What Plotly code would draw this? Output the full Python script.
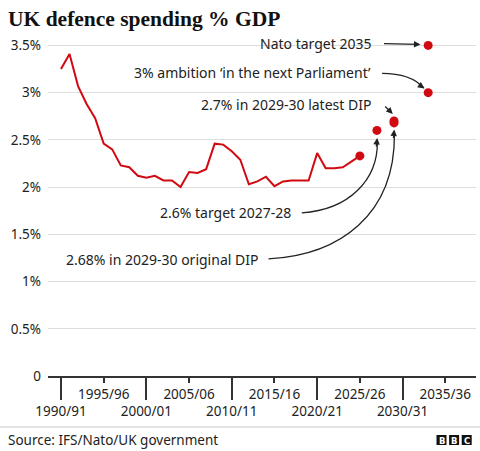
import plotly.graph_objects as go

# UK defence spending as % of GDP, financial years starting 1990 .. 2025
years = list(range(1990, 2026))
spending = [3.25, 3.41, 3.07, 2.88, 2.73, 2.46, 2.40, 2.23, 2.21, 2.12,
            2.10, 2.12, 2.07, 2.07, 2.00, 2.16, 2.15, 2.19, 2.46, 2.45,
            2.38, 2.29, 2.03, 2.06, 2.11, 2.01, 2.06, 2.07, 2.07, 2.07,
            2.36, 2.20, 2.20, 2.21, 2.27, 2.33]

# targets / plans
target_years = [2027, 2029, 2029, 2033, 2033]
target_values = [2.6, 2.68, 2.7, 3.0, 3.5]
target_labels = ["2.6% target 2027-28", "2.68% in 2029-30 original DIP",
                 "2.7% in 2029-30 latest DIP",
                 "3% ambition \u2018in the next Parliament\u2019",
                 "Nato target 2035"]

y_ticks = [0, 0.5, 1, 1.5, 2, 2.5, 3, 3.5]
y_labels = ["0", "0.5%", "1%", "1.5%", "2%", "2.5%", "3%", "3.5%"]
x_ticks_short = [1995, 2005, 2015, 2025, 2035]
x_labels_short = ["1995/96", "2005/06", "2015/16", "2025/26", "2035/36"]
x_ticks_long = [1990, 2000, 2010, 2020, 2030]
x_labels_long = ["1990/91", "2000/01", "2010/11", "2020/21", "2030/31"]

RED = "#d10a11"
INK = "#222222"
FONT = "Noto Sans"

W, H = 480, 451
M = dict(l=48, r=4, t=36, b=75)


def px(x):  # pixel -> paper x
    return (x - M["l"]) / (W - M["l"] - M["r"])


def py(y):  # pixel -> paper y
    return (H - M["b"] - y) / (H - M["t"] - M["b"])


fig = go.Figure()

fig.add_trace(go.Scatter(x=years, y=spending, mode="lines",
                         line=dict(color=RED, width=2), hoverinfo="skip"))
fig.add_trace(go.Scatter(x=[years[-1]], y=[spending[-1]], mode="markers",
                         marker=dict(color=RED, size=9), hoverinfo="skip"))
fig.add_trace(go.Scatter(x=target_years, y=target_values, mode="markers",
                         marker=dict(color=RED, size=9), hoverinfo="skip"))
# dummy trace so the long-tick axis is drawn
fig.add_trace(go.Scatter(x=[years[0]], y=[spending[0]], xaxis="x2",
                         mode="none", hoverinfo="skip"))

# labels
t26, t268, t27, t3, t35 = [(x, y) for x, y in zip(target_years, target_values)]
label_pos = [
    (2017.2, 1.727, target_labels[0]),
    (2013.3, 1.229, target_labels[1]),
    (2026.5, 2.87, target_labels[2]),
    (2026.5, 3.21, target_labels[3]),
    (2026.5, 3.517, target_labels[4]),
]
for x, y, txt in label_pos:
    fig.add_annotation(x=x, y=y, text=txt, showarrow=False, xanchor="right",
                       yanchor="middle", font=dict(family=FONT, size=14, color=INK))

# curved leaders
def curve(p0, c1, c2, p1):
    return "M {},{} C {},{} {},{} {},{}".format(*p0, *c1, *c2, *p1)

paths = [
    curve((2018.2, 1.727), (2023.8, 1.76), (t26[0] + 0.1, 2.08), (t26[0] + 0.05, 2.48)),
    curve((2014.3, 1.24), (2022.7, 1.28), (t268[0] + 0.1, 1.71), (t268[0] + 0.05, 2.56)),
    curve((2027.6, 3.205), (2029.9, 3.205), (2031.4, 3.16), (t3[0] - 0.5, 3.05)),
]
for p in paths:
    fig.add_shape(type="path", path=p, xref="x", yref="y",
                  line=dict(color=INK, width=1.3))

arrows = [
    (t26[0] + 0.03, t26[1] - 0.08, -1, 10),
    (t268[0] + 0.03, t268[1] - 0.07, -1, 10),
    (t3[0] - 0.45, t3[1] + 0.045, -7, -5),
    (t35[0] - 0.9, t35[1] + 0.01, -38, -1),
    (t27[0] - 0.15, t27[1] + 0.075, -9, -9),
]
for x, y, ax, ay in arrows:
    fig.add_annotation(x=x, y=y, ax=ax, ay=ay, text="", showarrow=True,
                       arrowhead=2, arrowsize=1, arrowwidth=1.3, arrowcolor=INK)

# footer
fig.add_shape(type="line", xref="paper", yref="paper", x0=px(0), x1=px(480),
              y0=py(427), y1=py(427), line=dict(color="#c8c8c8", width=1))
fig.add_annotation(xref="paper", yref="paper", x=px(6), y=py(440),
                   text="Source: IFS/Nato/UK government", showarrow=False,
                   xanchor="left", yanchor="middle",
                   font=dict(family=FONT, size=13.5, color=INK))
for i, letter in enumerate("BBC"):
    x0 = 436.5 + i * 12.6
    fig.add_shape(type="rect", xref="paper", yref="paper", x0=px(x0), x1=px(x0 + 10),
                  y0=py(445), y1=py(435), fillcolor="#111111", line=dict(width=0),
                  layer="below")
    fig.add_annotation(xref="paper", yref="paper", x=px(x0 + 5), y=py(440.5),
                       text="<b>%s</b>" % letter, showarrow=False,
                       xanchor="center", yanchor="middle",
                       font=dict(family="DejaVu Sans", size=8.5, color="white"))

fig.update_layout(
    width=W, height=H, margin=M,
    paper_bgcolor="white", plot_bgcolor="rgba(0,0,0,0)",
    showlegend=False,
    title=dict(text="<b>UK defence spending % GDP</b>", x=8 / W, xanchor="left",
               y=1 - 18 / H, yanchor="middle",
               font=dict(family="Liberation Serif", size=21.5, color="#111111")),
    xaxis=dict(range=[1988.48, 2038.6], tickvals=x_ticks_short, ticktext=x_labels_short,
               ticks="outside", ticklen=5, tickwidth=1.5, tickcolor="#333333",
               showline=True, linecolor="#333333", linewidth=1.5,
               showgrid=False, zeroline=False,
               tickfont=dict(family=FONT, size=13.5, color=INK)),
    xaxis2=dict(range=[1988.48, 2038.6], overlaying="x", anchor="y", side="bottom",
                tickvals=x_ticks_long, ticktext=x_labels_long,
                ticks="outside", ticklen=23, tickwidth=1.5, tickcolor="#333333",
                showline=False, showgrid=False, zeroline=False,
                tickfont=dict(family=FONT, size=13.5, color=INK)),
    yaxis=dict(range=[0, 3.6], tickvals=y_ticks, ticktext=y_labels,
               showgrid=True, gridcolor="#dddddd", gridwidth=1, zeroline=False,
               ticks="", ticklabelstandoff=6,
               tickfont=dict(family=FONT, size=13.5, color=INK)),
)

# drop the page's default body margin so the figure sits at the window's corner
fig.write_html("out.html", config={"displayModeBar": False},
               post_script="document.body.style.margin='0';")
